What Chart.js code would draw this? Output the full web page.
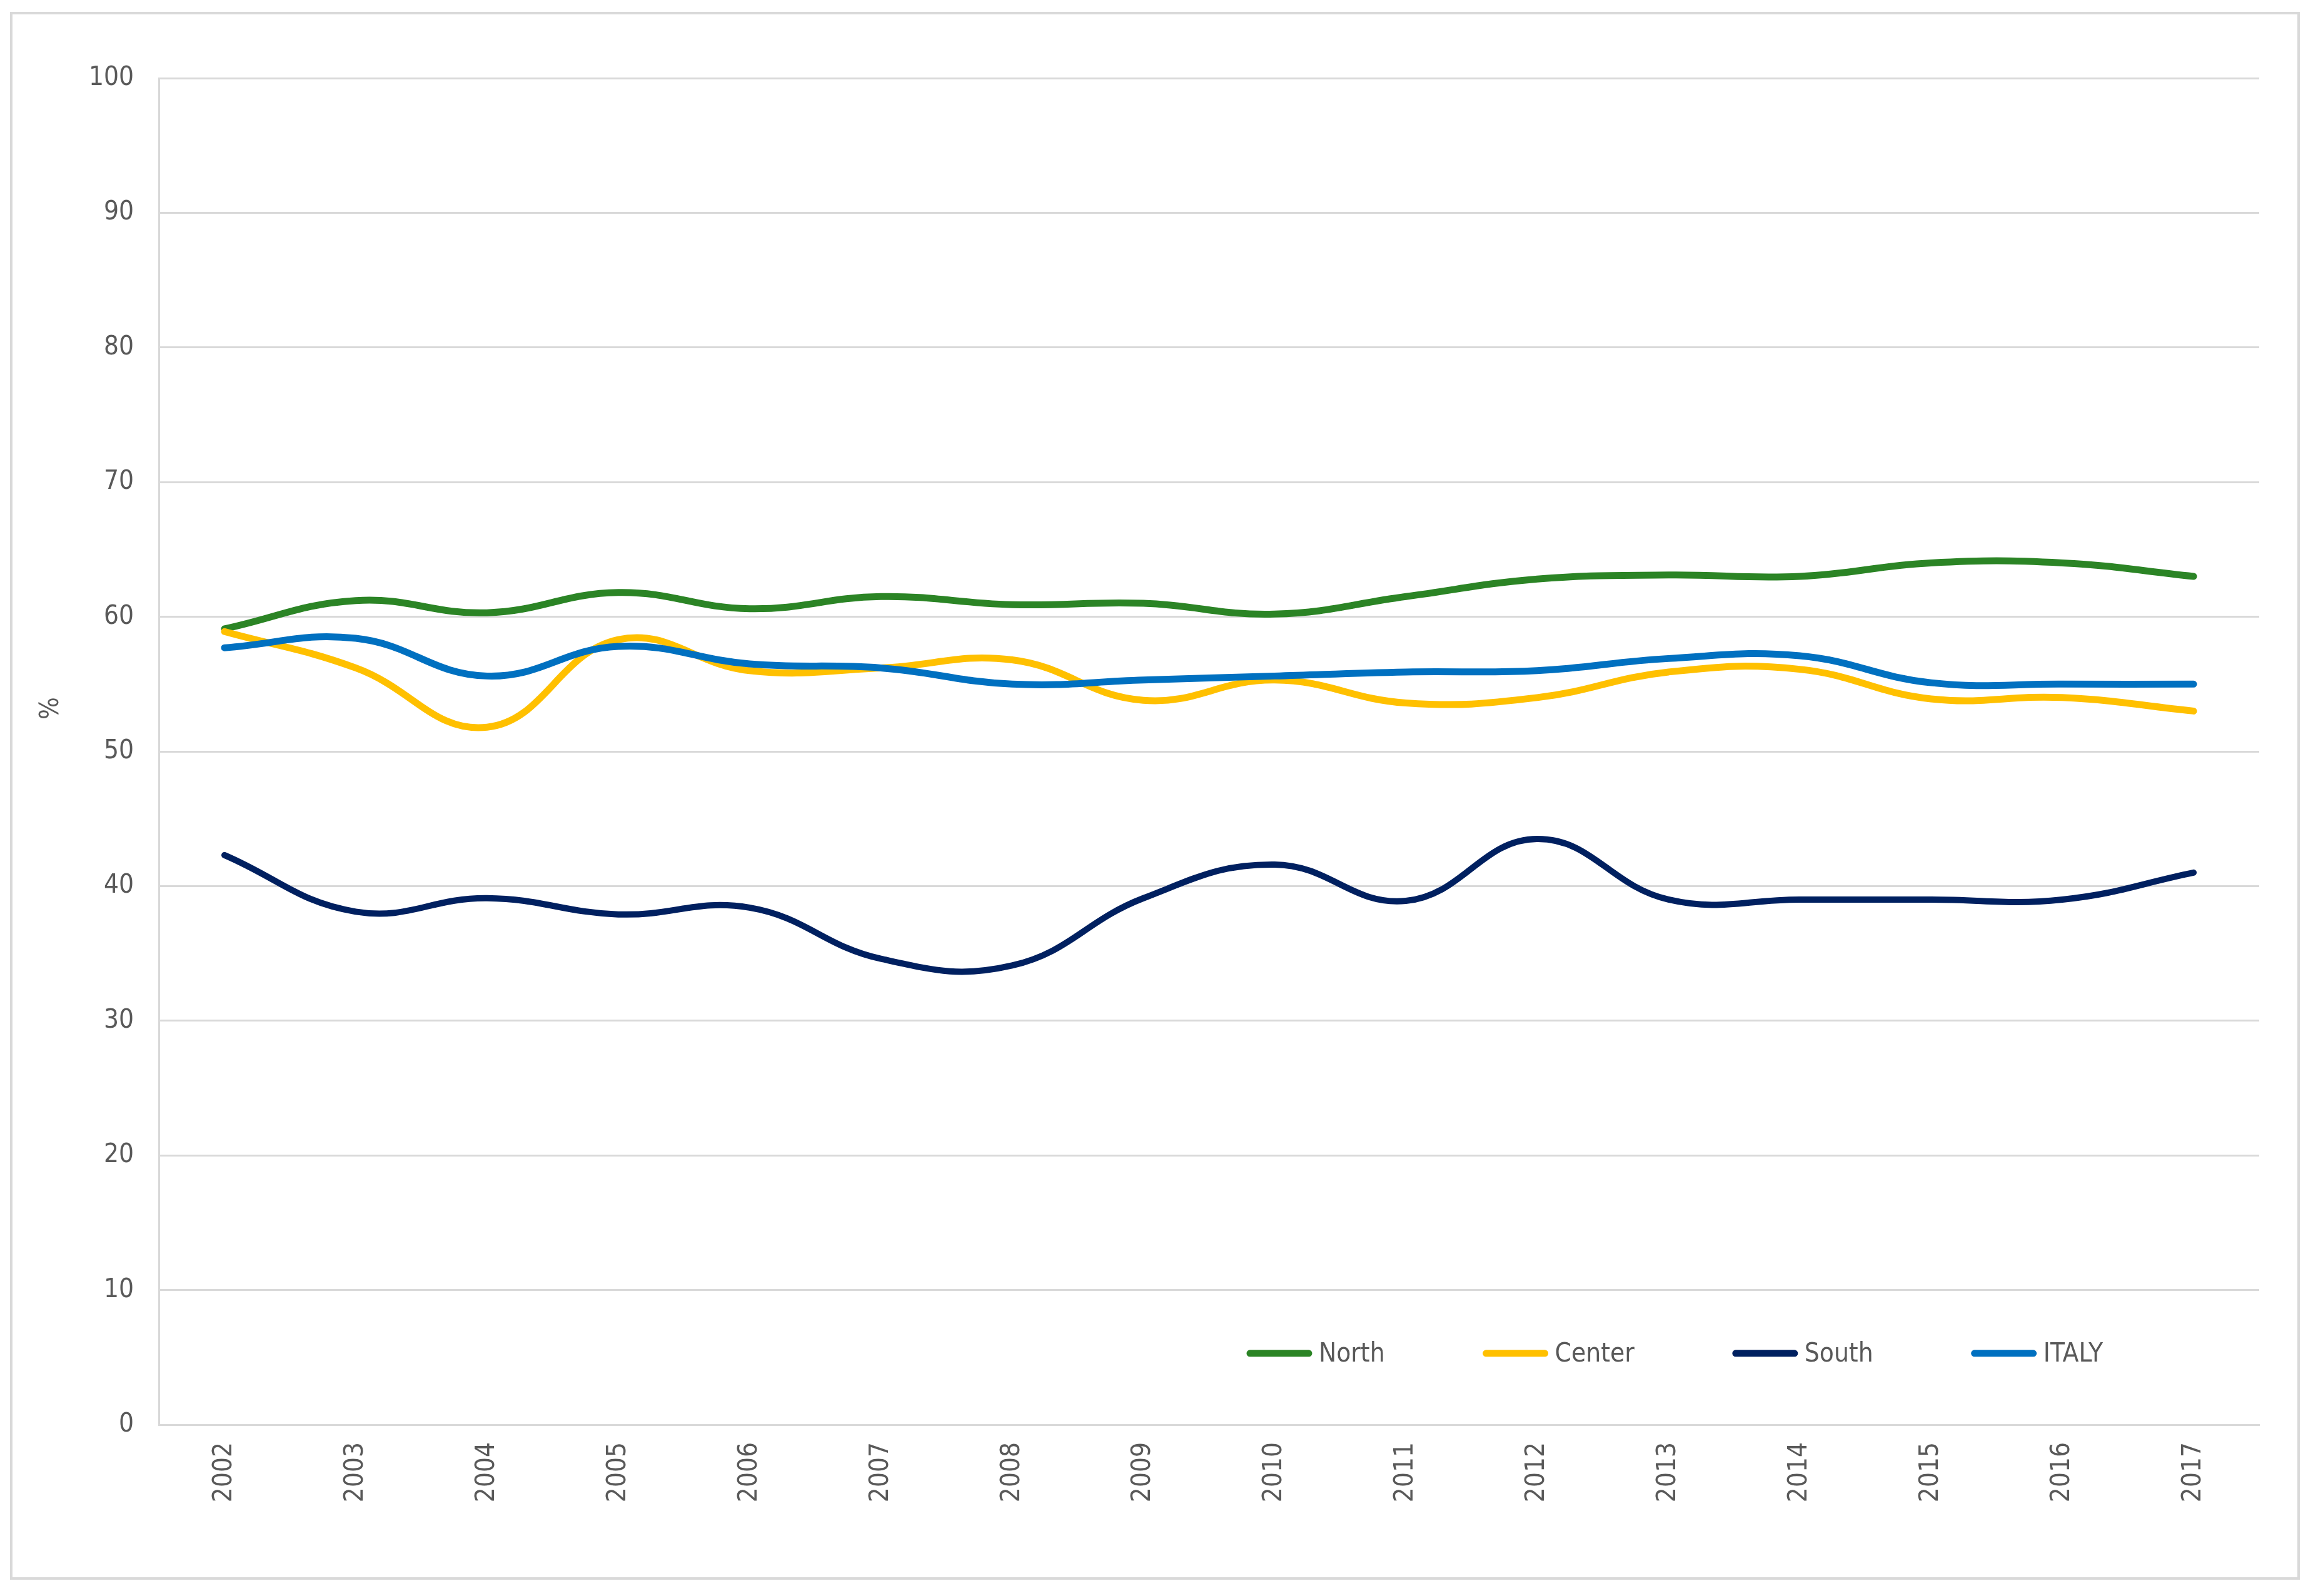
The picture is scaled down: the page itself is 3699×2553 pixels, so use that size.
<!DOCTYPE html>
<html>
<head>
<meta charset="utf-8">
<script src="https://cdn.jsdelivr.net/npm/chart.js@4.4.1/dist/chart.umd.min.js"></script>
<style>
  html, body { margin: 0; padding: 0; background: #ffffff; }
  #wrap { width: 3699px; height: 2553px; position: relative; }
  canvas { display: block; }
</style>
</head>
<body>
<div id="wrap"><canvas id="c" width="3699" height="2553"></canvas></div>
<script>
const years = ['2002','2003','2004','2005','2006','2007','2008','2009','2010','2011','2012','2013','2014','2015','2016','2017'];
const northValues  = [59.1, 61.2, 60.3, 61.8, 60.6, 61.5, 60.9, 61.0, 60.2, 61.5, 62.8, 63.1, 63.0, 64.0, 64.0, 63.0];
const centerValues = [58.9, 56.2, 51.8, 58.3, 56.0, 56.2, 56.8, 53.8, 55.3, 53.6, 54.0, 55.9, 56.1, 53.9, 54.0, 53.0];
const southValues  = [42.3, 38.1, 39.1, 37.9, 38.4, 34.6, 34.1, 39.1, 41.6, 38.9, 43.5, 39.0, 39.0, 39.0, 39.0, 41.0];
const italyValues  = [57.7, 58.4, 55.6, 57.8, 56.5, 56.2, 55.0, 55.3, 55.6, 55.9, 56.0, 56.9, 57.1, 55.1, 55.0, 55.0];
const seriesNames  = ['North', 'Center', 'South', 'ITALY'];
const yTicks = [0, 10, 20, 30, 40, 50, 60, 70, 80, 90, 100];
const yAxisTitle = '%';

const FONT = "'Liberation Sans Narrow', 'DejaVu Sans Condensed', 'Noto Sans', sans-serif";
const TEXT = '#595959';
const GRID = '#d9d9d9';

const frame = {
  id: 'frame',
  beforeDraw(chart) {
    const ctx = chart.ctx;
    ctx.save();
    ctx.fillStyle = '#ffffff';
    ctx.fillRect(0, 0, chart.width, chart.height);
    ctx.strokeStyle = '#d9d9d9';
    ctx.lineWidth = 4;
    ctx.strokeRect(18, 21, 3658, 2504);
    ctx.restore();
  }
};

const yTitle = {
  id: 'yTitle',
  afterDraw(chart) {
    const ctx = chart.ctx;
    const y = chart.scales.y;
    ctx.save();
    ctx.translate(82, y.getPixelForValue(53.2));
    ctx.rotate(-Math.PI / 2);
    ctx.font = '42px ' + FONT;
    ctx.fillStyle = TEXT;
    ctx.textAlign = 'center';
    ctx.textBaseline = 'middle';
    ctx.fillText(yAxisTitle, 0, 0);
    ctx.restore();
  }
};

const innerLegend = {
  id: 'innerLegend',
  afterDraw(chart) {
    const ctx = chart.ctx;
    const area = chart.chartArea;
    const yPix = chart.scales.y.getPixelForValue(5.3);
    let x = area.left + 0.518 * (area.right - area.left);
    ctx.save();
    ctx.font = '42px ' + FONT;
    ctx.textBaseline = 'middle';
    ctx.textAlign = 'left';
    chart.data.datasets.forEach(ds => {
      ctx.strokeStyle = ds.borderColor;
      ctx.lineWidth = 11;
      ctx.lineCap = 'round';
      ctx.beginPath();
      ctx.moveTo(x + 5, yPix);
      ctx.lineTo(x + 99, yPix);
      ctx.stroke();
      x += 115;
      ctx.fillStyle = TEXT;
      ctx.fillText(ds.label, x, yPix + 2);
      x += ctx.measureText(ds.label).width + 157;
    });
    ctx.restore();
  }
};

const colors = ['#2B8425', '#FFC000', '#002060', '#0070C0'];
const values = [northValues, centerValues, southValues, italyValues];
const orders = [3, 2, 1, 0];
const widths = [11, 11, 10, 11];

new Chart(document.getElementById('c'), {
  type: 'line',
  data: {
    labels: years,
    datasets: seriesNames.map((name, i) => ({
      label: name,
      data: values[i],
      borderColor: colors[i],
      backgroundColor: colors[i],
      borderWidth: widths[i],
      pointRadius: 0,
      tension: 0.42,
      fill: false,
      order: orders[i],
      borderCapStyle: 'round'
    }))
  },
  options: {
    responsive: false,
    animation: false,
    devicePixelRatio: 1,
    layout: { padding: { left: 0, top: 125, right: 86, bottom: 74 } },
    plugins: {
      legend: { display: false },
      tooltip: { enabled: false },
      title: { display: false }
    },
    scales: {
      x: {
        type: 'category',
        offset: true,
        afterFit(scale) { scale.height = 200; },
        grid: { display: false, drawTicks: false },
        border: { display: true, color: GRID, width: 3 },
        ticks: {
          color: TEXT,
          font: { family: FONT, size: 42 },
          minRotation: 90,
          maxRotation: 90,
          padding: 28,
          autoSkip: false
        }
      },
      y: {
        min: 0,
        max: 100,
        afterFit(scale) { scale.width = 254; },
        afterBuildTicks(scale) { scale.ticks = yTicks.map(v => ({ value: v })); },
        grid: { color: GRID, lineWidth: 3, drawTicks: false },
        border: { display: true, color: GRID, width: 3 },
        ticks: {
          color: TEXT,
          font: { family: FONT, size: 42 },
          padding: 40
        }
      }
    }
  },
  plugins: [frame, yTitle, innerLegend]
});
</script>
</body>
</html>
